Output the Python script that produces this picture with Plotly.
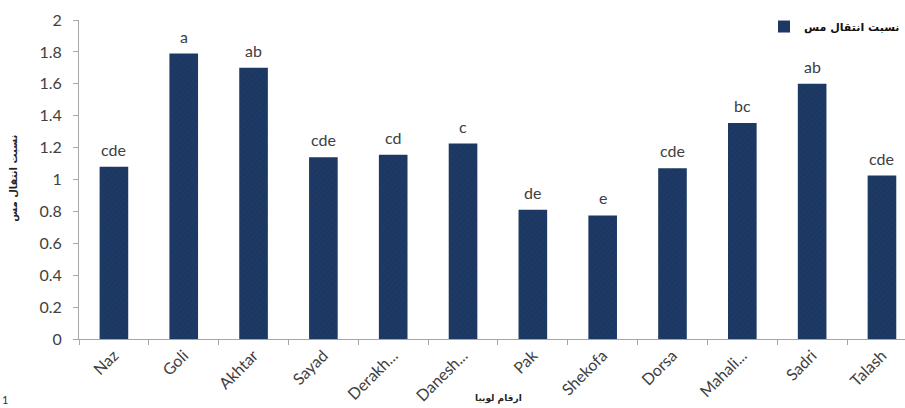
import plotly.graph_objects as go

# Bean cultivars and their copper transfer ratio
cultivars = ["Naz", "Goli", "Akhtar", "Sayad", "Derakh...", "Danesh...",
             "Pak", "Shekofa", "Dorsa", "Mahali...", "Sadri", "Talash"]
transfer_ratio = [1.08, 1.79, 1.70, 1.14, 1.155, 1.225, 0.81, 0.775, 1.07, 1.355, 1.60, 1.025]
groups = ["cde", "a", "ab", "cde", "cd", "c", "de", "e", "cde", "bc", "ab", "cde"]
y_ticks = [0, 0.2, 0.4, 0.6, 0.8, 1, 1.2, 1.4, 1.6, 1.8, 2]

series_name = "نسبت انتقال مس"
x_title = "ارقام لوبیا"
y_title = "نسبت انتقال مس"

bar_color = "#1b3762"
axis_color = "#a6a6a6"
label_color = "#404040"
latin_font = "Lato, 'Open Sans', sans-serif"
persian_font = "'DejaVu Sans', 'Noto Sans', sans-serif"

fig = go.Figure()
fig.add_trace(go.Bar(
    x=cultivars,
    y=transfer_ratio,
    name=series_name,
    marker=dict(color=bar_color, line=dict(width=0),
                pattern=dict(shape="/", fgcolor="#24416e", size=4, solidity=0.25)),
    showlegend=True,
))

# significance letters above each bar
for c, v, g in zip(cultivars, transfer_ratio, groups):
    fig.add_annotation(x=c, y=v, text=g, showarrow=False, yanchor="bottom",
                       yshift=6, font=dict(family=latin_font, size=16, color=label_color))

# rotated y-axis title
fig.add_annotation(xref="paper", yref="paper", x=-0.079, y=0.505, text=y_title,
                   textangle=-90, showarrow=False, xanchor="center", yanchor="middle",
                   font=dict(family=persian_font, size=10, color="#222222", weight="bold"))
# x-axis title
fig.add_annotation(xref="paper", yref="paper", x=0.508, y=-0.188, text=x_title,
                   showarrow=False, xanchor="center", yanchor="middle",
                   font=dict(family=persian_font, size=9, color="#222222", weight="bold"))
# small page number in the corner
fig.add_annotation(xref="paper", yref="paper", x=-0.0956, y=-0.19, text="1",
                   showarrow=False, xanchor="left", yanchor="middle",
                   font=dict(family=latin_font, size=11, color="#333333"))

fig.update_layout(
    width=905, height=408,
    margin=dict(l=79, r=0, t=20, b=69),
    plot_bgcolor="white", paper_bgcolor="white",
    bargap=0.59,
    legend=dict(x=1.0, y=1.025, xanchor="right", yanchor="top",
                font=dict(family=persian_font, size=11, color="#111111", weight="bold"),
                bgcolor="rgba(0,0,0,0)", itemwidth=30),
    xaxis=dict(
        range=[-0.5, 11.33],
        showline=True, linecolor=axis_color, linewidth=1,
        ticks="outside", ticklen=5, tickcolor=axis_color, tickson="boundaries",
        tickangle=-45, showgrid=False,
        tickfont=dict(family=latin_font, size=16, color=label_color),
    ),
    yaxis=dict(
        range=[0, 2], tickvals=y_ticks,
        ticktext=[("%g" % t) for t in y_ticks],
        showline=True, linecolor=axis_color, linewidth=1,
        ticks="outside", ticklen=5, tickcolor=axis_color,
        ticklabelstandoff=8,
        showgrid=False, zeroline=False,
        tickfont=dict(family=latin_font, size=16, color=label_color),
    ),
)

fig.write_html("out.html")
